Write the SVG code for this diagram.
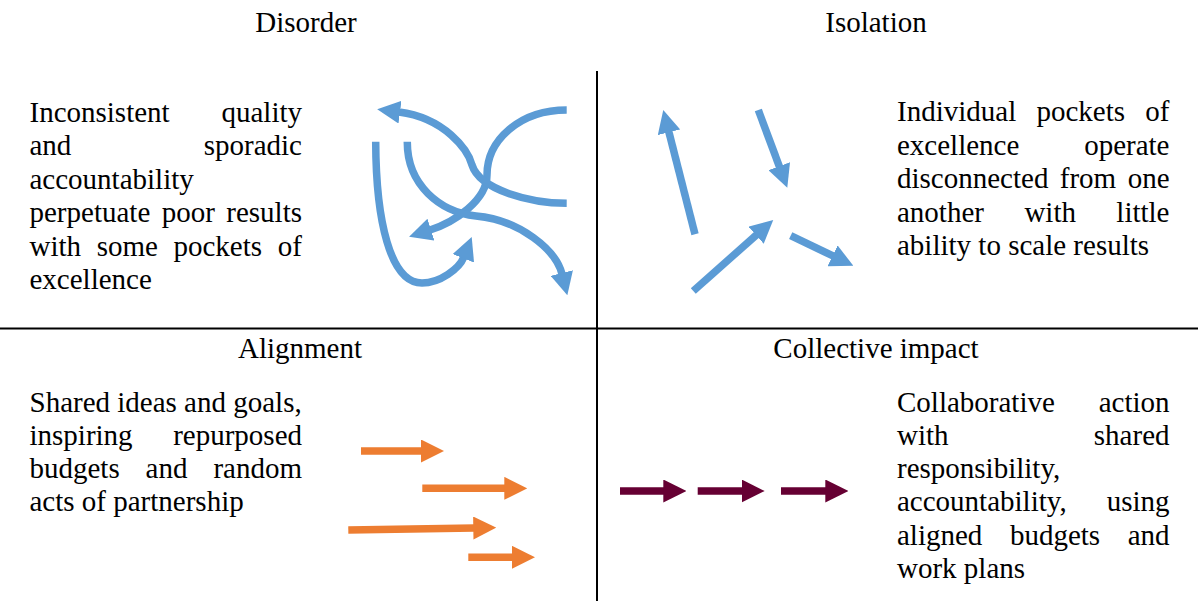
<svg xmlns="http://www.w3.org/2000/svg" width="1198" height="601" viewBox="0 0 1198 601">
<style>
text{font-size:29px;fill:#000}
.r{text-anchor:end}
.c{text-anchor:middle}
.blue{fill:none;stroke:#5B9BD5;stroke-width:7.5}
.orange{fill:none;stroke:#ED7D31;stroke-width:7.5}
.maroon{fill:none;stroke:#660033;stroke-width:7.5}
.axis{stroke:#000;stroke-width:2}
</style>
<defs>
<marker id="hb" viewBox="0 0 23 23" refX="1" refY="11.5" markerWidth="23" markerHeight="23" markerUnits="userSpaceOnUse" orient="auto"><path d="M0,0 L23,11.5 L0,23 Z" fill="#5B9BD5"/></marker>
<marker id="ho" viewBox="0 0 23 23" refX="1" refY="11.5" markerWidth="23" markerHeight="23" markerUnits="userSpaceOnUse" orient="auto"><path d="M0,0 L23,11.5 L0,23 Z" fill="#ED7D31"/></marker>
<marker id="hm" viewBox="0 0 23 23" refX="1" refY="11.5" markerWidth="23" markerHeight="23" markerUnits="userSpaceOnUse" orient="auto"><path d="M0,0 L23,11.5 L0,23 Z" fill="#660033"/></marker>
</defs>
<rect width="1198" height="601" fill="#fff"/>
<g id="axes">
<line class="axis" x1="597" y1="71" x2="597" y2="601"/>
<line class="axis" x1="0" y1="328.5" x2="1198" y2="328.5"/>
</g>
<g font-family="'Liberation Serif', 'Times New Roman', Times, serif">
<g id="disorder">
<text class="c" x="306" y="32">Disorder</text>
<text x="29.5" y="121.5">Inconsistent</text><text class="r" x="302" y="121.5">quality</text>
<text x="29.5" y="155">and</text><text class="r" x="302" y="155">sporadic</text>
<text x="29.5" y="188.5">accountability</text>
<text x="29.5" y="222">perpetuate</text><text x="161.7" y="222">poor</text><text class="r" x="302" y="222">results</text>
<text x="29.5" y="255.5">with</text><text x="96.7" y="255.5">some</text><text x="173.5" y="255.5">pockets</text><text class="r" x="302" y="255.5">of</text>
<text x="29.5" y="289">excellence</text>
</g>
<g id="isolation">
<text class="c" x="876" y="32">Isolation</text>
<text x="897" y="121">Individual</text><text x="1036.5" y="121">pockets</text><text class="r" x="1169.5" y="121">of</text>
<text x="897" y="154.5">excellence</text><text class="r" x="1169.5" y="154.5">operate</text>
<text x="897" y="188">disconnected</text><text x="1059.8" y="188">from</text><text class="r" x="1169.5" y="188">one</text>
<text x="897" y="221.5">another</text><text x="1024.4" y="221.5">with</text><text class="r" x="1169.5" y="221.5">little</text>
<text x="897" y="255">ability to scale results</text>
</g>
<g id="alignment">
<text class="c" x="300" y="358">Alignment</text>
<text x="29.5" y="411.5">Shared ideas and goals,</text>
<text x="29.5" y="444.8">inspiring</text><text class="r" x="302" y="444.8">repurposed</text>
<text x="29.5" y="478.1">budgets</text><text x="145.6" y="478.1">and</text><text class="r" x="302" y="478.1">random</text>
<text x="29.5" y="511.4">acts of partnership</text>
</g>
<g id="collective-impact">
<text class="c" x="876" y="358">Collective impact</text>
<text x="897" y="411.5">Collaborative</text><text class="r" x="1169.5" y="411.5">action</text>
<text x="897" y="444.8">with</text><text class="r" x="1169.5" y="444.8">shared</text>
<text x="897" y="478.1">responsibility,</text>
<text x="897" y="511.4">accountability,</text><text class="r" x="1169.5" y="511.4">using</text>
<text x="897" y="544.7">aligned</text><text x="1009.9" y="544.7">budgets</text><text class="r" x="1169.5" y="544.7">and</text>
<text x="897" y="578">work plans</text>
</g>
</g>
<g id="connectors">
<path class="blue" marker-end="url(#hb)" d="M566.7,110 C520,110 487,140 487,175 C487,200 455,222 430,230"/>
<path class="blue" marker-end="url(#hb)" d="M566.7,203.3 C530,203 480,190 472,165 C468,150 445,118 399,112"/>
<path class="blue" marker-end="url(#hb)" d="M375.7,141.7 C376,220 390,283 422,283 C440,283 459.4,268.4 463.7,257.4"/>
<path class="blue" marker-end="url(#hb)" d="M407.3,141.7 C407,185 440,212 476,216 C520,220 556,250 562,274"/>
<line class="blue" marker-end="url(#hb)" x1="695" y1="234.3" x2="668.7" y2="131.3"/>
<line class="blue" marker-end="url(#hb)" x1="758.3" y1="110" x2="779.6" y2="167.1"/>
<line class="blue" marker-end="url(#hb)" x1="693.3" y1="291" x2="756.8" y2="234.6"/>
<line class="blue" marker-end="url(#hb)" x1="790.7" y1="235.7" x2="833.5" y2="256.2"/>
<line class="orange" marker-end="url(#ho)" x1="361" y1="451" x2="422" y2="451"/>
<line class="orange" marker-end="url(#ho)" x1="422.3" y1="488.3" x2="505.3" y2="488.3"/>
<line class="orange" marker-end="url(#ho)" x1="348.3" y1="530" x2="474.3" y2="528.05"/>
<line class="orange" marker-end="url(#ho)" x1="468.3" y1="557.3" x2="513" y2="557.3"/>
<line class="maroon" marker-end="url(#hm)" x1="620" y1="491" x2="664.3" y2="491"/>
<line class="maroon" marker-end="url(#hm)" x1="697.7" y1="491" x2="742.7" y2="491"/>
<line class="maroon" marker-end="url(#hm)" x1="781" y1="491" x2="826.3" y2="491"/>
</g>
</svg>
